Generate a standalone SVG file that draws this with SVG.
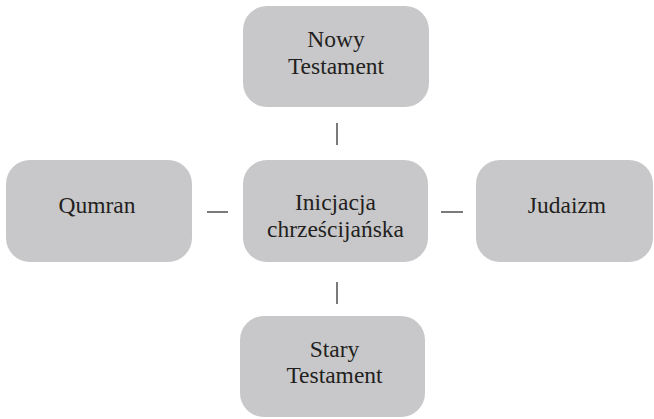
<svg xmlns="http://www.w3.org/2000/svg" width="654" height="419" viewBox="0 0 654 419">
<style>
.box{fill:#c8c8ca}
.t{font-size:23.5px;fill:#231f20;text-anchor:middle}
.c{stroke:#333;stroke-width:1.3;fill:none}
</style>
<rect width="654" height="419" fill="#fff"/>
<g id="connectors">
<line class="c" x1="337" y1="123" x2="337" y2="145"/>
<line class="c" x1="337" y1="282" x2="337" y2="304"/>
<line class="c" x1="207" y1="212" x2="228" y2="212"/>
<line class="c" x1="441" y1="212" x2="463" y2="212"/>
</g>
<g font-family="'Liberation Serif', 'Times New Roman', serif">
<g id="nowy-testament">
<rect class="box" x="243" y="6" width="186" height="101" rx="24"/>
<text class="t" x="336" y="47">Nowy</text>
<text class="t" x="336" y="74">Testament</text>
</g>
<g id="inicjacja">
<rect class="box" x="243" y="160" width="185" height="102" rx="24"/>
<text class="t" x="335.5" y="210">Inicjacja</text>
<text class="t" x="335.5" y="237">chrześcijańska</text>
</g>
<g id="qumran">
<rect class="box" x="6" y="160" width="186" height="102" rx="24"/>
<text class="t" x="97" y="213">Qumran</text>
</g>
<g id="judaizm">
<rect class="box" x="476" y="160" width="177" height="102" rx="24"/>
<text class="t" x="567" y="213">Judaizm</text>
</g>
<g id="stary-testament">
<rect class="box" x="240" y="316" width="185" height="101" rx="24"/>
<text class="t" x="334.5" y="357">Stary</text>
<text class="t" x="334.5" y="383">Testament</text>
</g>
</g>
</svg>
